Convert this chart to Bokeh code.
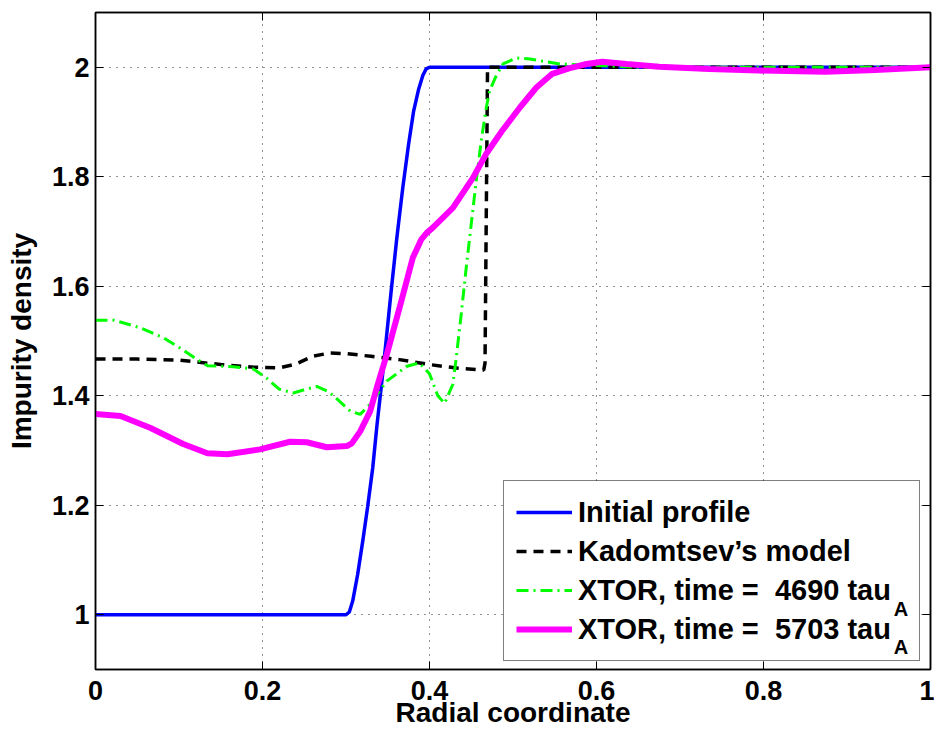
from bokeh.plotting import figure
from bokeh.models import Range1d, FixedTicker, LinearAxis, Legend, LegendItem
from bokeh.core.properties import value
from bokeh.embed import file_html
from bokeh.resources import INLINE

# ---- data ----
x_init = [0.0, 0.1, 0.2, 0.3, 0.304, 0.308, 0.314, 0.320, 0.326, 0.332, 0.337, 0.343,
          0.348, 0.354, 0.361, 0.368, 0.375, 0.381, 0.387, 0.392, 0.396, 0.400, 0.5, 0.7, 1.0]
y_init = [1.0, 1.0, 1.0, 1.0, 1.005, 1.025, 1.074, 1.134, 1.198, 1.268, 1.345, 1.427,
          1.50, 1.59, 1.69, 1.78, 1.86, 1.92, 1.96, 1.985, 1.997, 2.0, 2.0, 2.0, 2.0]

x_kad = [0.0, 0.05, 0.1, 0.15, 0.19, 0.22, 0.24, 0.26, 0.28, 0.30, 0.33, 0.364, 0.40,
         0.43, 0.465, 0.4665, 0.4695, 0.6, 0.8, 1.0]
y_kad = [1.467, 1.467, 1.465, 1.457, 1.452, 1.451, 1.458, 1.472, 1.478, 1.477, 1.472,
         1.466, 1.457, 1.451, 1.447, 1.46, 2.0, 2.0, 2.0, 2.0]

x_x4690 = [0.0, 0.022, 0.054, 0.08, 0.1015, 0.12, 0.134, 0.165, 0.189, 0.205, 0.22, 0.237,
           0.252, 0.265, 0.277, 0.285, 0.305, 0.317, 0.329, 0.349, 0.373, 0.388, 0.40,
           0.41, 0.418, 0.428, 0.432, 0.438, 0.444, 0.45, 0.456, 0.462, 0.468, 0.472,
           0.48, 0.488, 0.504, 0.52, 0.556, 0.585, 0.615, 0.65, 0.8, 1.0]
y_x4690 = [1.538, 1.538, 1.524, 1.507, 1.487, 1.468, 1.455, 1.453, 1.449, 1.432, 1.412, 1.405,
           1.412, 1.417, 1.409, 1.400, 1.372, 1.366, 1.385, 1.427, 1.454, 1.460, 1.440,
           1.400, 1.386, 1.421, 1.469, 1.549, 1.634, 1.714, 1.793, 1.866, 1.926, 1.957,
           1.985, 2.006, 2.017, 2.015, 2.006, 2.004, 2.002, 2.0, 2.0, 2.0]

x_x5703 = [0.0, 0.03, 0.066, 0.105, 0.134, 0.158, 0.197, 0.233, 0.253, 0.277, 0.301, 0.307,
           0.317, 0.329, 0.338, 0.349, 0.364, 0.38, 0.39, 0.397, 0.404, 0.428, 0.452,
           0.468, 0.487, 0.508, 0.528, 0.547, 0.567, 0.588, 0.607, 0.636, 0.675, 0.735,
           0.794, 0.874, 0.934, 1.0]
y_x5703 = [1.3665, 1.363, 1.341, 1.312, 1.295, 1.293, 1.302, 1.316, 1.315, 1.306, 1.308, 1.313,
           1.335, 1.372, 1.421, 1.476, 1.56, 1.652, 1.685, 1.698, 1.707, 1.743, 1.798,
           1.842, 1.884, 1.926, 1.963, 1.988, 1.998, 2.006, 2.010, 2.006, 2.001, 1.997,
           1.994, 1.992, 1.995, 2.0]

x_ticks = [0, 0.2, 0.4, 0.6, 0.8, 1]
x_tick_labels = ["0", "0.2", "0.4", "0.6", "0.8", "1"]
y_ticks = [1, 1.2, 1.4, 1.6, 1.8, 2]
y_tick_labels = ["1", "1.2", "1.4", "1.6", "1.8", "2"]

legend_labels = ["Initial profile", "Kadomtsev\u2019s model",
                 "XTOR, time =  4690 tau\u00a0\u00a0", "XTOR, time =  5703 tau\u00a0\u00a0"]
subscripts = ["A", "A"]

FONT = "Liberation Sans"

p = figure(frame_width=835, frame_height=657,
           min_border_left=95, min_border_right=4, min_border_top=12, min_border_bottom=62,
           x_range=Range1d(0, 1), y_range=Range1d(0.9, 2.1),
           output_backend="svg", toolbar_location=None,
           background_fill_color="white", border_fill_color="white")

p.outline_line_color = "black"
p.outline_line_width = 1.5

# main axes
for ax, ticks, labels in ((p.xaxis[0], x_ticks, x_tick_labels), (p.yaxis[0], y_ticks, y_tick_labels)):
    ax.ticker = FixedTicker(ticks=ticks)
    ax.major_label_overrides = {t: l for t, l in zip(ticks, labels)}
    ax.major_label_text_font = FONT
    ax.major_label_text_font_style = "bold"
    ax.major_label_text_font_size = "27px"
    ax.major_label_text_color = "black"
    ax.axis_label_text_font = FONT
    ax.axis_label_text_font_style = "bold"
    ax.axis_label_text_font_size = "28px"
    ax.axis_label_text_color = "black"
    ax.major_tick_in = 8
    ax.major_tick_out = 0
    ax.minor_tick_line_color = None
    ax.axis_line_width = 1.5
    ax.major_tick_line_width = 1

p.xaxis[0].axis_label = "Radial coordinate"
p.yaxis[0].axis_label = "Impurity density"
p.xaxis[0].major_label_standoff = 11
p.xaxis[0].axis_label_standoff = -6
p.yaxis[0].major_label_standoff = 6
p.yaxis[0].axis_label_standoff = 12

# box ticks on top and right (no labels)
top_ax = LinearAxis(ticker=FixedTicker(ticks=x_ticks), major_label_text_font_size="0px",
                    major_label_text_color=None,
                    major_label_standoff=0, major_tick_in=8, major_tick_out=0,
                    minor_tick_line_color=None, axis_line_width=1.5)
right_ax = LinearAxis(ticker=FixedTicker(ticks=y_ticks), major_label_text_font_size="0px",
                      major_label_text_color=None,
                      major_label_standoff=0, major_tick_in=8, major_tick_out=0,
                      minor_tick_line_color=None, axis_line_width=1.5)
p.add_layout(top_ax, "above")
p.add_layout(right_ax, "right")

# dotted grid
for g in (p.xgrid[0], p.ygrid[0]):
    g.grid_line_color = "black"
    g.grid_line_alpha = 0.85
    g.grid_line_dash = "1 6"
    g.grid_line_width = 1

# white backing under the legend box (hides the grid there)
p.quad(left=[0.4886], right=[0.9856], top=[1.2416], bottom=[0.9146],
       fill_color="white", line_color=None)

r1 = p.line(x_init, y_init, line_color="#0000ff", line_width=3.5)
r2 = p.line(x_kad, y_kad, line_color="black", line_width=3.5, line_dash="10 7")
r3 = p.line(x_x4690, y_x4690, line_color="#00ff00", line_width=3, line_dash="12 5 2 5")
r4 = p.line(x_x5703, y_x5703, line_color="#ff00ff", line_width=6)

legend = Legend(items=[LegendItem(label=legend_labels[0], renderers=[r1]),
                       LegendItem(label=legend_labels[1], renderers=[r2]),
                       LegendItem(label=legend_labels[2], renderers=[r3]),
                       LegendItem(label=legend_labels[3], renderers=[r4])],
                location=(408, 8), margin=0, padding=12, spacing=1,
                glyph_width=56, glyph_height=38, label_height=38, label_standoff=6,
                label_text_font=FONT, label_text_font_style="bold",
                label_text_font_size="29px", label_text_color="black",
                border_line_color="black", border_line_width=1.5,
                background_fill_color="white", background_fill_alpha=0.0)
p.add_layout(legend)

# subscript "A" after "tau" in the two XTOR legend entries
p.text(x=[0.956, 0.956], y=[1.0114, 0.9402], text=subscripts,
       text_font=value(FONT), text_font_style="bold", text_font_size="20px",
       text_color="black", text_baseline="middle", text_align="left")

html = file_html(p, INLINE)
open("out.html", "w").write(html)
